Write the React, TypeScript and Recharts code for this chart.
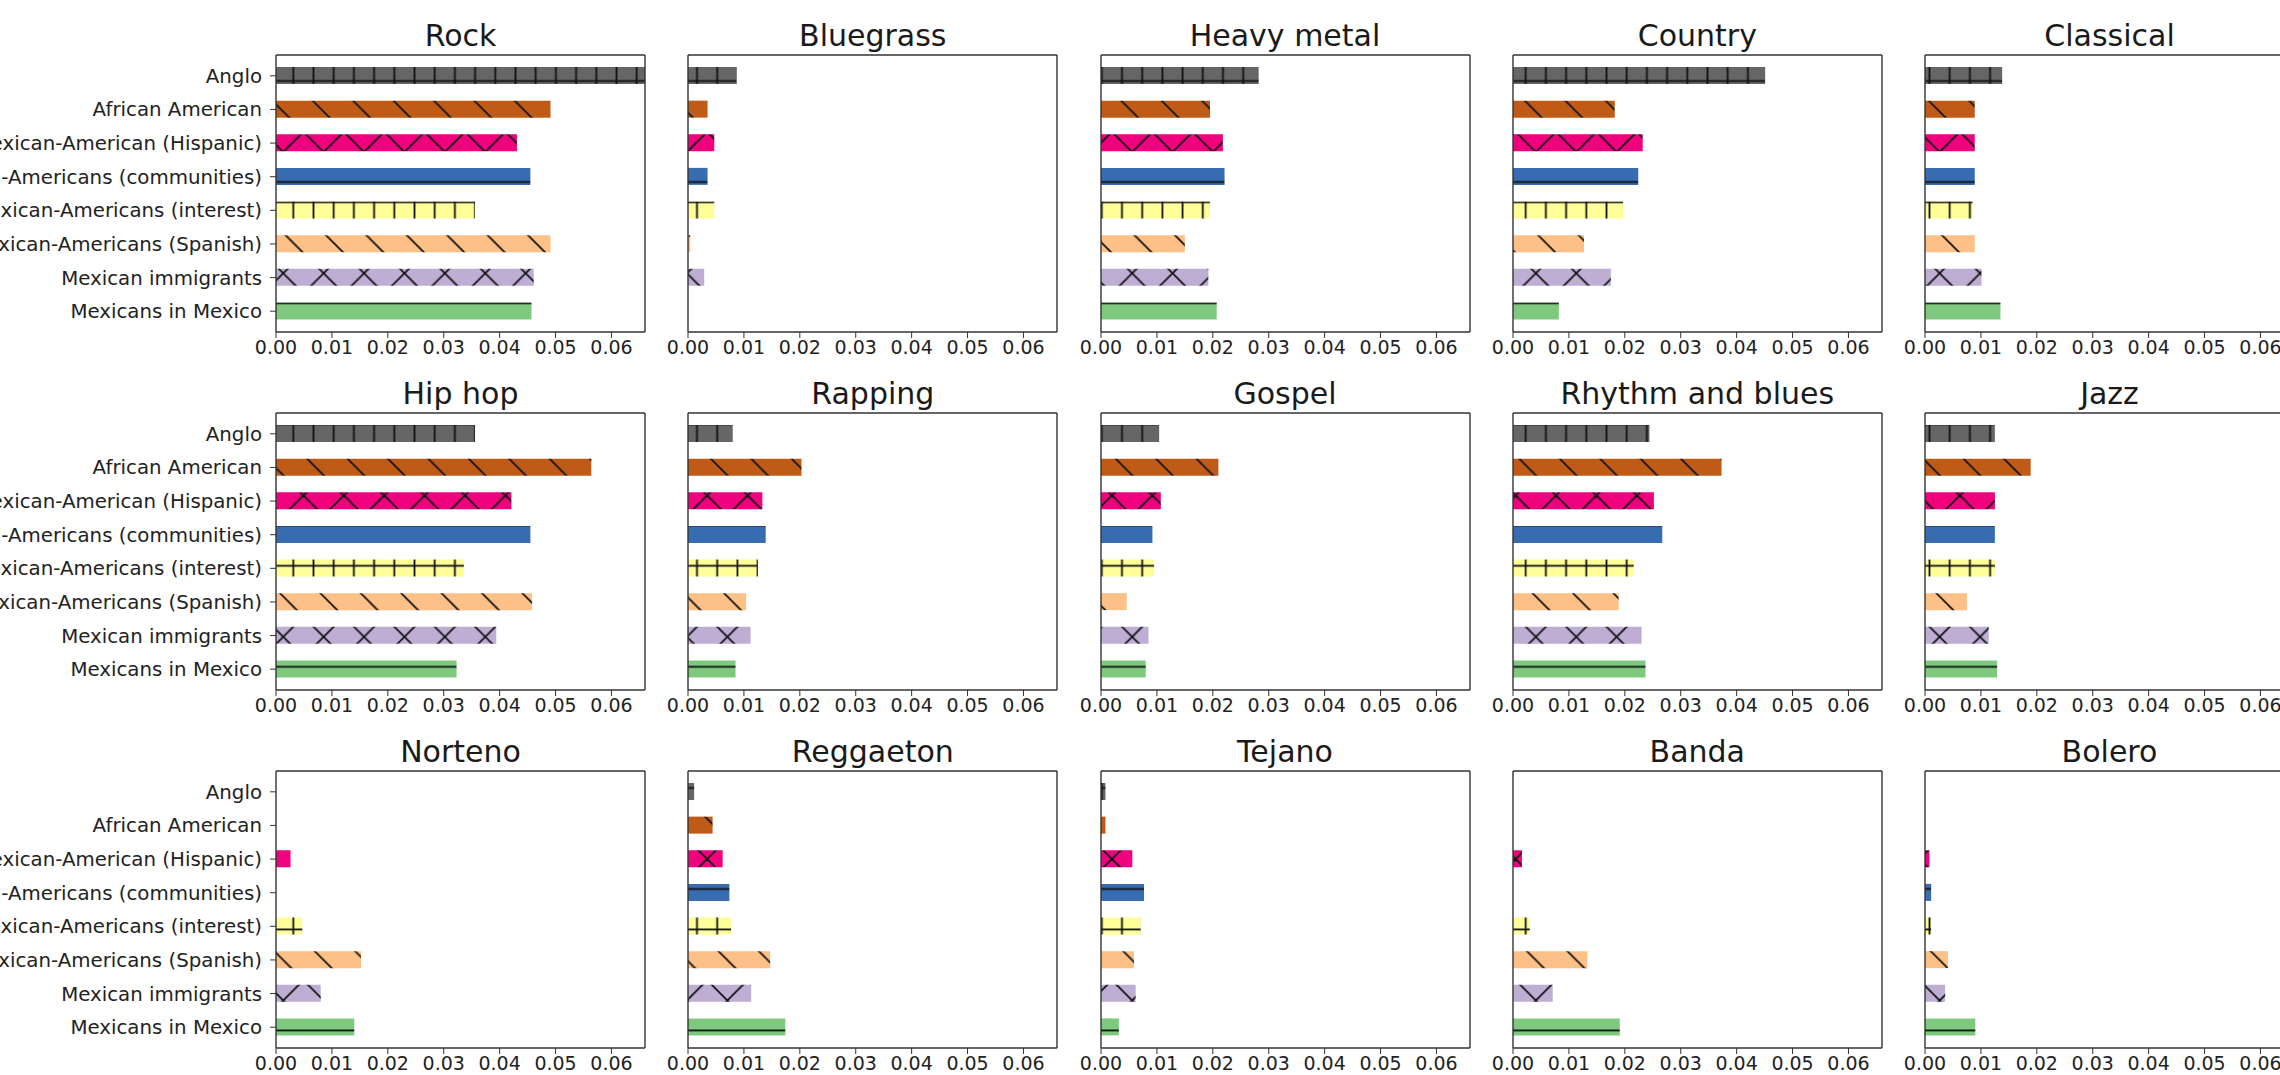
import React from 'react'
import { BarChart, Bar, XAxis, YAxis, Cell } from 'recharts'

const categories = [
  'Anglo',
  'African American',
  'Mexican-American (Hispanic)',
  'Mexican-Americans (communities)',
  'Mexican-Americans (interest)',
  'Mexican-Americans (Spanish)',
  'Mexican immigrants',
  'Mexicans in Mexico',
]
// matplotlib "Accent", top row first
const colors = ['#666666', '#bf5b17', '#f0027f', '#386cb0', '#ffff99', '#fdc086', '#beaed4', '#7fc97f']
const hatches = ['+', '\\', 'x', '-', '+', '\\', 'x', '-']
const xTicks = [0, 0.01, 0.02, 0.03, 0.04, 0.05, 0.06]
const X_MAX = 0.066

const genres = [
  'Rock', 'Bluegrass', 'Heavy metal', 'Country', 'Classical',
  'Hip hop', 'Rapping', 'Gospel', 'Rhythm and blues', 'Jazz',
  'Norteno', 'Reggaeton', 'Tejano', 'Banda', 'Bolero',
]

const rock = [0.066, 0.0491, 0.0431, 0.0455, 0.0356, 0.0491, 0.0461, 0.0457]
const bluegrass = [0.0087, 0.0035, 0.0047, 0.0035, 0.0047, 0.0004, 0.0029, 0]
const heavyMetal = [0.0282, 0.0195, 0.0218, 0.0221, 0.0195, 0.015, 0.0192, 0.0207]
const country = [0.0451, 0.0182, 0.0232, 0.0224, 0.0197, 0.0127, 0.0175, 0.0082]
const classical = [0.0138, 0.0089, 0.0089, 0.0089, 0.0085, 0.0089, 0.0101, 0.0135]
const hipHop = [0.0356, 0.0564, 0.0421, 0.0455, 0.0336, 0.0458, 0.0394, 0.0323]
const rapping = [0.008, 0.0203, 0.0133, 0.0139, 0.0125, 0.0104, 0.0112, 0.0085]
const gospel = [0.0104, 0.021, 0.0107, 0.0092, 0.0095, 0.0046, 0.0085, 0.008]
const rnb = [0.0244, 0.0373, 0.0252, 0.0267, 0.0216, 0.0189, 0.023, 0.0237]
const jazz = [0.0125, 0.0189, 0.0125, 0.0125, 0.0125, 0.0075, 0.0114, 0.0129]
const norteno = [0, 0, 0.0026, 0, 0.0047, 0.0152, 0.008, 0.014]
const reggaeton = [0.0011, 0.0044, 0.0062, 0.0074, 0.0077, 0.0147, 0.0113, 0.0174]
const tejano = [0.0008, 0.0008, 0.0056, 0.0077, 0.0071, 0.0059, 0.0062, 0.0032]
const banda = [0, 0, 0.0016, 0, 0.003, 0.0133, 0.0071, 0.0191]
const bolero = [0, 0, 0.0008, 0.0011, 0.0011, 0.0041, 0.0036, 0.009]

const series = [
  rock, bluegrass, heavyMetal, country, classical,
  hipHop, rapping, gospel, rnb, jazz,
  norteno, reggaeton, tejano, banda, bolero,
]

const COL_X = [276, 688.3, 1100.5, 1512.8, 1925]
const ROW_Y = [55, 413, 771]
const BOX_W = 369
const BOX_H = 277
const FONT = '"DejaVu Sans", sans-serif'
const INK = '#222'

// hatch grid is fixed to the page, like matplotlib's figure-space hatching
const P = 20.2
const D = 40.4

function Hatch({ id, color, kind, ox, oy }: { id: string; color: string; kind: string; ox: number; oy: number }) {
  const ln = { stroke: '#111', strokeWidth: 1.8 }
  if (kind === '+' || kind === '-') {
    return (
      <pattern id={id} patternUnits="userSpaceOnUse" width={P} height={P} x={293.3 - P / 2 - ox} y={81 - P / 2 - oy}>
        <rect width={P} height={P} fill={color} />
        <line x1={0} y1={P / 2} x2={P} y2={P / 2} {...ln} />
        {kind === '+' && <line x1={P / 2} y1={0} x2={P / 2} y2={P} {...ln} />}
      </pattern>
    )
  }
  return (
    <pattern id={id} patternUnits="userSpaceOnUse" width={D} height={D} x={20.65 - ox} y={10.65 - oy}>
      <rect width={D} height={D} fill={color} />
      <line x1={-3} y1={-3} x2={D + 3} y2={D + 3} {...ln} />
      <line x1={D - 4} y1={-4} x2={D + 4} y2={4} {...ln} />
      <line x1={-4} y1={D - 4} x2={4} y2={D + 4} {...ln} />
      {kind === 'x' && (
        <>
          <line x1={-3} y1={D + 3} x2={D + 3} y2={-3} {...ln} />
          <line x1={-4} y1={4} x2={4} y2={-4} {...ln} />
          <line x1={D - 4} y1={D + 4} x2={D + 4} y2={D - 4} {...ln} />
        </>
      )}
    </pattern>
  )
}

function Panel({ idx }: { idx: number }) {
  const col = idx % 5
  const row = Math.floor(idx / 5)
  const yw = col === 0 ? 420 : 30
  const left = COL_X[col] - yw
  const top = ROW_Y[row] - 7
  const W = yw + BOX_W + 30
  const H = 7 + BOX_H + 40
  const data = categories.map((name, i) => ({ name, value: series[idx][i] }))
  const xTick = { fontSize: 19, fill: INK, fontFamily: FONT }
  const yTick = { fontSize: 19.8, fill: INK, fontFamily: FONT }
  const axisLine = { stroke: '#333', strokeWidth: 1.4 }

  return (
    <div style={{ position: 'absolute', left, top, width: W, height: H }}>
      <BarChart width={W} height={H} data={data} layout="vertical" margin={{ top: 6, right: 29, left: 0, bottom: 0 }}>
        <defs>
          {categories.map((_, i) => (
            <Hatch key={i} id={`h${idx}_${i}`} color={colors[i]} kind={hatches[i]} ox={left} oy={top} />
          ))}
        </defs>
        <XAxis
          type="number"
          domain={[0, X_MAX]}
          ticks={xTicks}
          interval={0}
          allowDataOverflow
          tickFormatter={(v: number) => v.toFixed(2)}
          tick={xTick}
          tickSize={6}
          tickMargin={3}
          tickLine={{ stroke: '#333' }}
          axisLine={axisLine}
          height={40}
        />
        <XAxis xAxisId="top" orientation="top" type="number" domain={[0, X_MAX]} tick={false} tickLine={false} axisLine={axisLine} height={1} />
        <YAxis
          type="category"
          dataKey="name"
          width={yw}
          padding={{ top: 4, bottom: 4 }}
          tick={col === 0 ? yTick : false}
          tickLine={col === 0 ? { stroke: '#333' } : false}
          tickSize={6}
          tickMargin={8}
          interval={0}
          axisLine={axisLine}
        />
        <YAxis yAxisId="right" orientation="right" type="category" dataKey="name" tick={false} tickLine={false} axisLine={axisLine} width={1} />
        <Bar dataKey="value" barSize={17} isAnimationActive={false}>
          {data.map((_, i) => (
            <Cell key={i} fill={`url(#h${idx}_${i})`} />
          ))}
        </Bar>
      </BarChart>
    </div>
  )
}

export default function App() {
  return (
    <div style={{ position: 'absolute', left: 0, top: 0, width: 2280, height: 1075, overflow: 'hidden', background: '#fff' }}>
      {genres.map((g, idx) => {
        const col = idx % 5
        const row = Math.floor(idx / 5)
        return (
          <div
            key={g}
            style={{
              position: 'absolute',
              left: COL_X[col],
              top: ROW_Y[row] - 34.4,
              width: BOX_W,
              textAlign: 'center',
              fontFamily: FONT,
              fontSize: 30,
              lineHeight: '30px',
              color: '#1a1a1a',
              whiteSpace: 'nowrap',
            }}
          >
            {g}
          </div>
        )
      })}
      {genres.map((g, idx) => (
        <Panel key={g} idx={idx} />
      ))}
    </div>
  )
}
